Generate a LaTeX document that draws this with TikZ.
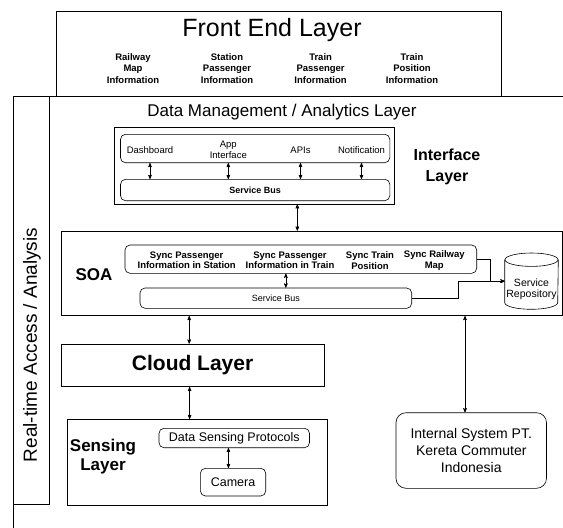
\documentclass[tikz,border=0pt]{standalone}
\usepackage{fontspec}
\setmainfont{Liberation Sans}
\usepackage{tikz}
\usetikzlibrary{shapes}
\usetikzlibrary{arrows,positioning}
\tikzstyle{box}=[draw=black, line width=0.6pt, inner sep=0pt]
\tikzstyle{rbox}=[box, rounded corners=5pt]
\tikzstyle{lbl}=[inner sep=0pt, align=center]
\tikzstyle{db}=[inner sep=0pt, minimum width=53pt, minimum height=55.7pt]
\newcommand{\fsz}[2]{\fontsize{#1}{#2}\selectfont}

\begin{document}
\begin{tikzpicture}
[x=1pt, y=-1pt, stealth'-stealth', line width=0.6pt]
 \useasboundingbox (0,0) rectangle (563,528);
 % front end
 \node[box, minimum width=445.2pt, minimum height=85.7pt] (frontend) at (279,53.85) {};
 \node[lbl, font=\fsz{25}{30}] (fetitle) at (272,30) {Front End Layer};
 \node[lbl, font=\fsz{9.5}{11.5}\bfseries] (femap) at (133,68.6) {Railway\\Map\\Information};
 \node[lbl, font=\fsz{9.5}{11.5}\bfseries] (festation) at (227,68.6) {Station\\Passenger\\Information};
 \node[lbl, font=\fsz{9.5}{11.5}\bfseries] (fetrainpass) at (320.6,68.6) {Train\\Passenger\\Information};
 \node[lbl, font=\fsz{9.5}{11.5}\bfseries] (fetrainpos) at (412,68.6) {Train\\Position\\Information};
 % real-time frame
 \draw[-] (563,96.7) -- (13.6,96.7) -- (13.6,528);
 \node[box, minimum width=35.6pt, minimum height=407.3pt] (rtstrip) at (31.4,300.35) {};
 \node[lbl, rotate=90, font=\fsz{19}{23}] (rttext) at (32,345) {Real-time Access / Analysis};
 \node[lbl, font=\fsz{17}{20}] (dmtitle) at (282,111.7) {Data Management / Analytics Layer};
 % interface layer
 \node[box, minimum width=280.1pt, minimum height=76.7pt] (ifbox) at (253.85,165.65) {};
 \node[rbox, minimum width=269.3pt, minimum height=28.4pt] (ifapps) at (255.15,148.5) {};
 \node[rbox, minimum width=269.3pt, minimum height=21.4pt, font=\fsz{9}{11}\bfseries] (ifbus) at (255.15,190) {Service Bus};
 \node[lbl, font=\fsz{9.5}{11}] (dashboard) at (150,150) {Dashboard};
 \node[lbl, font=\fsz{9.5}{11}] (appif) at (228.3,150) {App\\Interface};
 \node[lbl, font=\fsz{9.5}{11}] (apis) at (300.5,150) {APIs};
 \node[lbl, font=\fsz{9.5}{11}] (notif) at (361.5,150) {Notification};
 \node[lbl, font=\fsz{16}{20.5}\bfseries] (iflayer) at (447,167) {Interface\\Layer};
 % soa
 \node[box, minimum width=501pt, minimum height=84.7pt] (soabox) at (311.5,273.35) {};
 \node[lbl, font=\fsz{17}{20}\bfseries] (soatext) at (94,275) {SOA};
 \node[rbox, minimum width=351.7pt, minimum height=28.3pt] (syncbox) at (300.85,259.15) {};
 \node[lbl, font=\fsz{9.5}{10.7}\bfseries] (syncstation) at (186.7,260.3) {Sync Passenger\\Information in Station};
 \node[lbl, font=\fsz{9.5}{10.7}\bfseries] (synctrain) at (290,260.3) {Sync Passenger\\Information in Train};
 \node[lbl, font=\fsz{9.5}{10.7}\bfseries] (syncpos) at (370,260.3) {Sync Train\\Position};
 \node[lbl, font=\fsz{9.5}{10.7}\bfseries] (syncmap) at (434.3,260.3) {Sync Railway\\Map};
 \node[rbox, minimum width=271.7pt, minimum height=20.3pt, font=\fsz{9}{11}] (soabus) at (275.85,298.15) {Service Bus};
 % repository drum
 \node[db] (repository) at (531.5,281.15) {};
 \draw[-] ([yshift=-6.7pt]repository.north west) -- ([yshift=6.7pt]repository.south west)
   arc[start angle=180, end angle=360, x radius=26.5pt, y radius=6.7pt]
   -- ([yshift=-6.7pt]repository.north east);
 \draw[-] ([yshift=-6.7pt]repository.north) ellipse[x radius=26.5pt, y radius=6.7pt];
 \node[lbl, font=\fsz{10.5}{11.7}] (repotext) at (531.5,289.2) {Service\\Repository};
 % cloud and sensing
 \node[box, minimum width=263.2pt, minimum height=42.7pt, font=\fsz{21}{25}\bfseries] (cloud) at (192.6,365.35) {Cloud Layer};
 \node[box, minimum width=260pt, minimum height=86.4pt] (sensing) at (197.5,462.5) {};
 \node[lbl, font=\fsz{17}{19}\bfseries] (sensingtext) at (103,456.2) {Sensing\\Layer};
 \node[rbox, minimum width=150.5pt, minimum height=19.4pt, font=\fsz{12.5}{15}] (dsp) at (234.25,438) {Data Sensing Protocols};
 \node[rbox, minimum width=65.3pt, minimum height=27.7pt, font=\fsz{12.5}{15}] (camera) at (233.05,482.15) {Camera};
 % internal system
 \node[rbox, rounded corners=10pt, minimum width=150.5pt, minimum height=75.6pt, font=\fsz{14}{16.7}, align=center] (intsys) at (471.25,450.5) {Internal System PT.\\Kereta Commuter\\Indonesia};
 \path[]
   (dashboard |- ifapps.south) edge (dashboard |- ifbus.north)
   (appif |- ifapps.south) edge (appif |- ifbus.north)
   (apis |- ifapps.south) edge (apis |- ifbus.north)
   (notif |- ifapps.south) edge (notif |- ifbus.north)
   ([xshift=43.5pt]ifbox.south) edge ([xshift=43.5pt]ifbox.south |- soabox.north)
   ([xshift=10pt]soabus.north |- syncbox.south) edge ([xshift=10pt]soabus.north)
   ([xshift=-3.4pt]cloud.north |- soabox.south) edge ([xshift=-3.4pt]cloud.north)
   ([xshift=-3pt]cloud.south) edge ([xshift=-3pt]cloud.south |- sensing.north)
   ([xshift=-4.6pt]camera.north |- dsp.south) edge ([xshift=-4.6pt]camera.north)
   ([xshift=-6.25pt]intsys.north |- soabox.south) edge ([xshift=-6.25pt]intsys.north);
 \draw[-stealth'] (syncbox.east) -| ([xshift=-14pt]repository.west) -- (repository.west);
 \draw[-stealth'] (soabus.east) -| ([xshift=-46pt]repository.west) -- (repository.west);
\end{tikzpicture}
\end{document}
